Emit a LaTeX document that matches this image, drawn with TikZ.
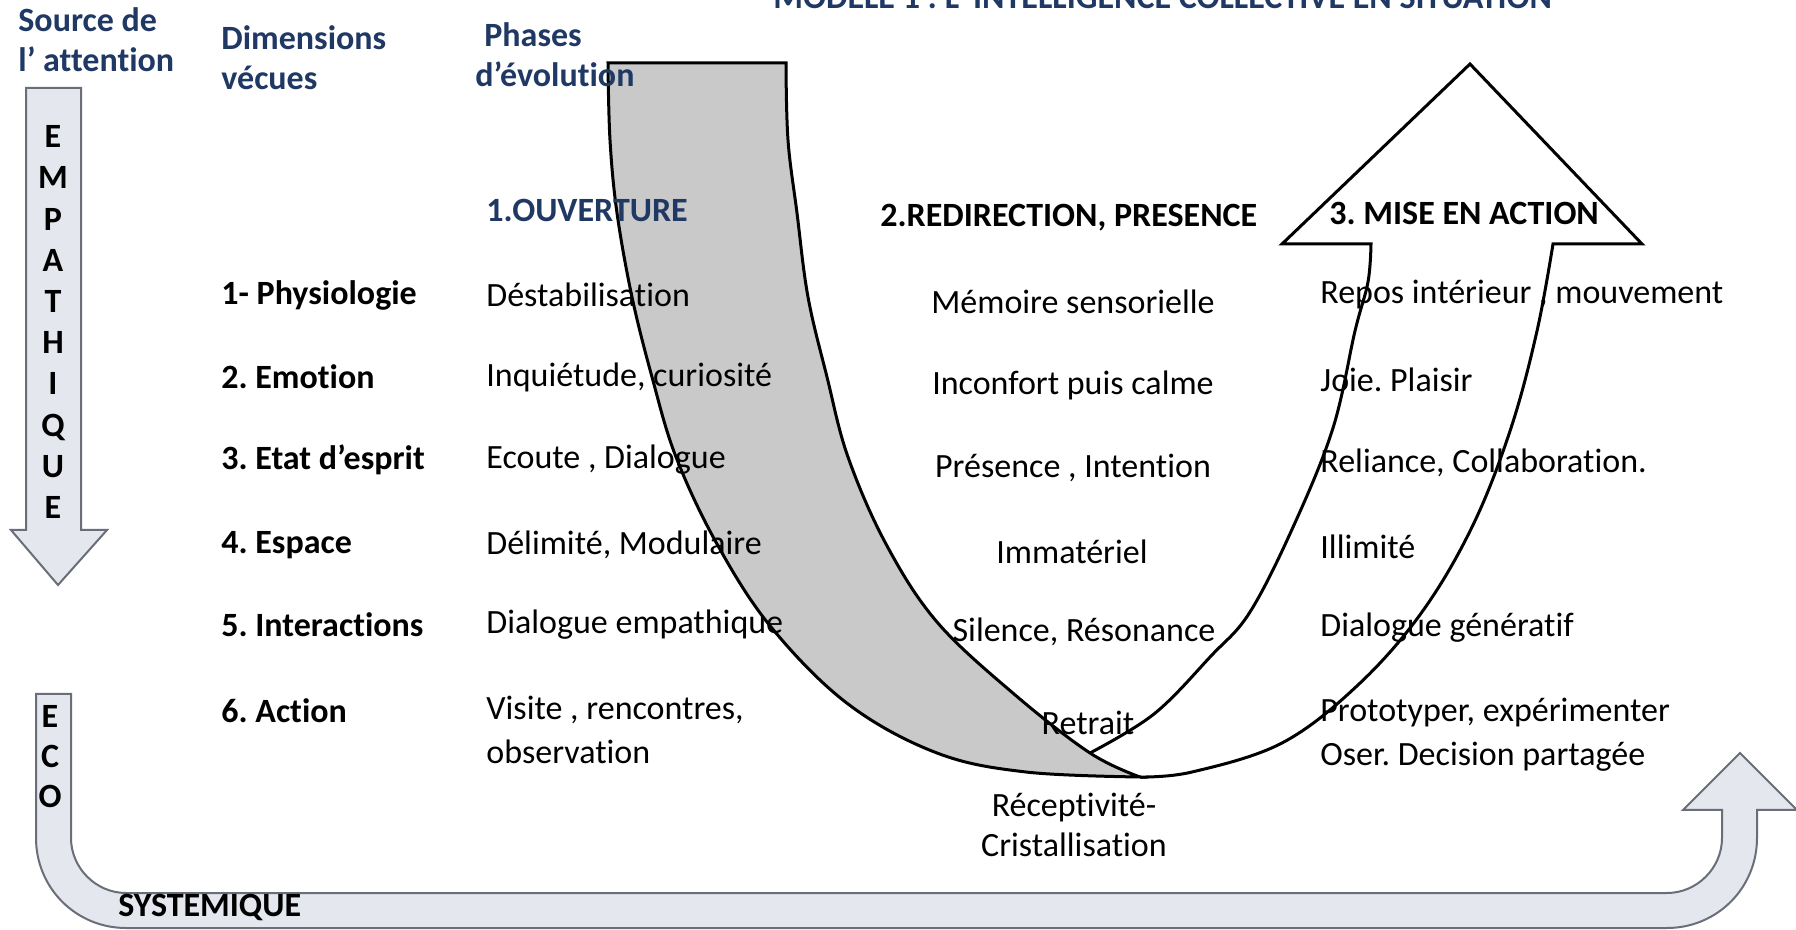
\documentclass[tikz,border=0pt]{standalone}
\usepackage{fontspec}
\setmainfont{Carlito}[Ligatures={TeX,NoCommon}]
\usepackage{tikz}
\frenchspacing
\definecolor{navy}{RGB}{31,56,100}
\definecolor{bandgrey}{RGB}{201,201,201}
\definecolor{arrowfill}{RGB}{228,231,237}
\definecolor{arrowline}{RGB}{105,110,120}
\tikzset{
  txt/.style={inner sep=0pt, font=\fontsize{17pt}{22pt}\selectfont},
  bold/.style={inner sep=0pt, font=\fontsize{17pt}{20pt}\selectfont\bfseries},
  head/.style={bold, text=navy, align=left, anchor=base west},
  dimlabel/.style={bold, anchor=west},
  leftcol/.style={txt, anchor=west, align=left},
  midcol/.style={txt, align=center},
  ubandline/.style={line width=1.5pt, black, line join=miter},
  flowarrow/.style={fill=arrowfill, draw=arrowline, line width=1pt}
}
\begin{document}
\begin{tikzpicture}[x=0.5pt,y=-0.5pt]
\useasboundingbox (0,0) rectangle (1796,930);
\clip (0,0) rectangle (1796,930);
\fill[white] (0,0) rectangle (1796,930);

% arrows of the source of attention
\draw[flowarrow] (26,88) -- (81,88) -- (81,530) -- (107,530) -- (58,585) -- (11,530) -- (26,530) -- cycle;
\draw[flowarrow] (36,694) -- (36,838) .. controls (36,888) and (76,928) .. (126,928)
  -- (1667,928) .. controls (1717,928) and (1757,888) .. (1757,838) -- (1757,810)
  -- (1797,810) -- (1740,753) -- (1683,810) -- (1722,810) -- (1722,838)
  .. controls (1722,868) and (1697,893) .. (1667,893) -- (126,893)
  .. controls (96,893) and (71,868) .. (71,838) -- (71,694) -- cycle;
\node[bold, align=center, font=\fontsize{17pt}{20.6pt}\selectfont\bfseries] (empathique) at (53,322) {E\\M\\P\\A\\T\\H\\I\\Q\\U\\E};
\node[bold, align=center, font=\fontsize{17pt}{20pt}\selectfont\bfseries] (eco) at (50,757) {E\\C\\O};
\node[bold, anchor=west] (systemique) at (118,907) {SYSTEMIQUE};

% U: descending grey band, ascending arrow
\filldraw[ubandline, fill=bandgrey]
  plot[smooth, tension=0.6] coordinates {(608,63) (610,140) (617,213) (632,297) (652,377) (676,457) (717,544) (771,627) (848,704) (937,753) (1026,772) (1140,777)}
  -- plot[smooth, tension=0.6] coordinates {(1140,777) (1090,753) (1014,694) (937,622) (886,544) (848,457) (827,377) (808,297) (797,213) (788,140) (786,63)}
  -- cycle;
\draw[ubandline]
  plot[smooth, tension=0.6] coordinates {(1090,753) (1154,714) (1211,656) (1250,612) (1294,525) (1333,428) (1355,331) (1368,282) (1371,244)}
  -- (1282,244) -- (1470,64) -- (1642,244)
  -- plot[smooth, tension=0.6] coordinates {(1553,244) (1537,331) (1511,428) (1473,525) (1422,612) (1358,685) (1282,743) (1192,772) (1140,777)};

% headers
\node[head] (title) at (773,9) {MODELE 1 : L’ INTELLIGENCE COLLECTIVE EN SITUATION};
\node[head] (source) at (18,72) {Source de\\l’ attention};
\node[head] (dimensions) at (221,90) {Dimensions\\vécues};
\node[head] (phases) at (475,87) {\hspace*{4.5pt}Phases\\d’évolution};
\node[head] (ouverture) at (486,222) {1.OUVERTURE};
\node[bold, anchor=base west] (redirection) at (880,227) {2.REDIRECTION, PRESENCE};
\node[bold, anchor=base west] (miseenaction) at (1329,225) {3. MISE EN ACTION};

% dimensions
\node[dimlabel] (physio) at (221,295) {1- Physiologie};
\node[dimlabel] (emotion) at (221,377) {2. Emotion};
\node[dimlabel] (etat) at (221,460) {3. Etat d’esprit};
\node[dimlabel] (espace) at (221,545) {4. Espace};
\node[dimlabel] (interact) at (221,625) {5. Interactions};
\node[dimlabel] (action) at (221,711) {6. Action};

% phase 1
\node[leftcol] (ouv1) at (486,295) {Déstabilisation};
\node[leftcol] (ouv2) at (486,377) {Inquiétude, curiosité};
\node[leftcol] (ouv3) at (486,460) {Ecoute , Dialogue};
\node[leftcol] (ouv4) at (486,545) {Délimité, Modulaire};
\node[leftcol] (ouv5) at (486,625) {Dialogue empathique};
\node[leftcol] (ouv6) at (486,730) {Visite , rencontres,\\observation};

% phase 2
\node[midcol] (red1) at (1073,302) {Mémoire sensorielle};
\node[midcol] (red2) at (1073,385) {Inconfort puis calme};
\node[midcol] (red3) at (1073,468) {Présence , Intention};
\node[midcol] (red4) at (1072,552) {Immatériel};
\node[midcol] (red5) at (1084,632) {Silence, Résonance};
\node[midcol] (red6) at (1088,723) {Retrait};
\node[midcol, font=\fontsize{17pt}{20pt}\selectfont] (red7) at (1074,825) {Réceptivité-\\Cristallisation};

% phase 3
\node[leftcol] (act1) at (1320,295) {Repos intérieur , mouvement};
\node[leftcol] (act2) at (1320,380) {Joie. Plaisir};
\node[leftcol] (act3) at (1320,463) {Reliance, Collaboration.};
\node[leftcol] (act4) at (1320,547) {Illimité};
\node[leftcol] (act5) at (1320,628) {Dialogue génératif};
\node[leftcol] (act6) at (1320,735) {Prototyper, expérimenter\\Oser. Decision partagée};
\end{tikzpicture}
\end{document}
